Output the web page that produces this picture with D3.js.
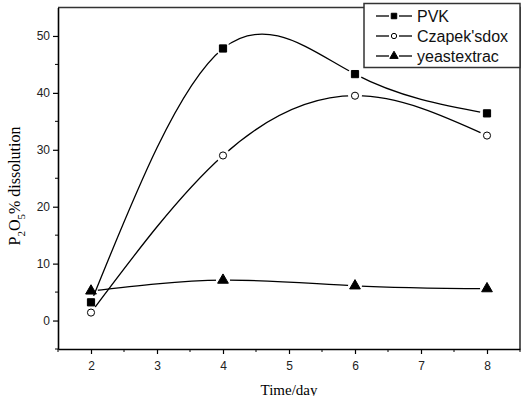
<!DOCTYPE html>
<html>
<head>
<meta charset="utf-8">
<script src="https://cdn.jsdelivr.net/npm/d3@7"></script>
<style>
  body { margin: 0; background: #fff; }
  svg { display: block; }
</style>
</head>
<body>
<svg id="chart" width="528" height="396"></svg>
<script>
var width = 528;
var height = 396;

var days = [2, 4, 6, 8];
var pvk = [3.2, 47.8, 43.3, 36.4];
var czapek = [1.4, 29.0, 39.5, 32.5];
var yeast = [5.2, 7.1, 6.1, 5.6];

var seriesNames = ["PVK", "Czapek'sdox", "yeastextrac"];
var seriesValues = [pvk, czapek, yeast];
var seriesSymbols = ["square", "circle", "triangle"];

var xTicks = [2, 3, 4, 5, 6, 7, 8];
var yTicks = [0, 10, 20, 30, 40, 50];

// plot area edges (note: "top" is taken by window.top)
var plotLeft = 58, plotRight = 520, plotTop = 7.5, plotBottom = 349;

var svg = d3.select("#chart");

var x = d3.scaleLinear().domain([1.5, 8.5]).range([plotLeft, plotRight]);
var y = d3.scaleLinear().domain([-5, 55]).range([plotBottom, plotTop]);

// frame (top + right)
svg.append("path")
    .attr("d", "M" + plotLeft + "," + plotTop + "H" + plotRight + "V" + plotBottom)
    .attr("fill", "none")
    .attr("stroke", "#333")
    .attr("stroke-width", 1.6);

// x axis
var xAxis = svg.append("g").attr("transform", "translate(0," + plotBottom + ")");
xAxis.call(d3.axisBottom(x).tickValues(xTicks).tickSize(5).tickSizeOuter(0).tickFormat(d3.format("d")));
xAxis.append("g").selectAll("line")
    .data(d3.range(1.5, 8.6, 0.5).filter(d => d % 1 !== 0))
    .join("line")
    .attr("x1", d => x(d)).attr("x2", d => x(d))
    .attr("y1", 0).attr("y2", 3)
    .attr("stroke", "#000");

// y axis
var yAxis = svg.append("g").attr("transform", "translate(" + plotLeft + ",0)");
yAxis.call(d3.axisLeft(y).tickValues(yTicks).tickSize(5).tickSizeOuter(0).tickFormat(d3.format("d")));
yAxis.append("g").selectAll("line")
    .data([-5, 5, 15, 25, 35, 45])
    .join("line")
    .attr("x1", 0).attr("x2", -3)
    .attr("y1", d => y(d)).attr("y2", d => y(d))
    .attr("stroke", "#000");

svg.selectAll(".domain").attr("stroke", "#000").attr("stroke-width", 1.6);
svg.selectAll(".tick line").attr("stroke", "#000").attr("stroke-width", 1.2);
svg.selectAll(".tick text")
    .attr("font-family", "Liberation Sans, Arial, sans-serif")
    .attr("font-size", 12)
    .attr("fill", "#222");
xAxis.selectAll(".tick text").attr("dy", "1.05em");

// axis titles
svg.append("text")
    .attr("x", (plotLeft + plotRight) / 2)
    .attr("y", 395)
    .attr("text-anchor", "middle")
    .attr("font-family", "Liberation Serif, Times New Roman, serif")
    .attr("font-size", 15)
    .text("Time/day");

var yTitle = svg.append("text")
    .attr("transform", "translate(20,186) rotate(-90)")
    .attr("text-anchor", "middle")
    .attr("font-family", "Liberation Serif, Times New Roman, serif")
    .attr("font-size", 16);
yTitle.append("tspan").text("P");
yTitle.append("tspan").attr("font-size", 11).attr("dy", 5).text("2");
yTitle.append("tspan").attr("dy", -5).text("O");
yTitle.append("tspan").attr("font-size", 11).attr("dy", 5).text("5");
yTitle.append("tspan").attr("dy", -5).text("% dissolution");

function symbolPath(type) {
    if (type === "square") return d3.symbol(d3.symbolSquare, 52)();
    if (type === "circle") return d3.symbol(d3.symbolCircle, 40)();
    return d3.symbol(d3.symbolTriangle, 50)();
}

function symbolFill(type) {
    return type === "circle" ? "#fff" : "#000";
}

var line = d3.line()
    .x(d => x(d[0]))
    .y(d => y(d[1]))
    .curve(d3.curveNatural);

var defs = svg.append("defs");

seriesValues.forEach(function(values, i) {
    var pts = days.map((d, j) => [d, values[j]]);

    // per-series gap around markers
    var mask = defs.append("mask").attr("id", "gap" + i)
        .attr("maskUnits", "userSpaceOnUse")
        .attr("x", 0).attr("y", 0).attr("width", width).attr("height", height);
    mask.append("rect").attr("width", width).attr("height", height).attr("fill", "#fff");
    mask.selectAll("circle").data(pts).join("circle")
        .attr("cx", d => x(d[0])).attr("cy", d => y(d[1]))
        .attr("r", 7).attr("fill", "#000");

    svg.append("path")
        .datum(pts)
        .attr("d", line)
        .attr("fill", "none")
        .attr("stroke", "#000")
        .attr("stroke-width", 1.3)
        .attr("mask", "url(#gap" + i + ")");

    svg.append("g").selectAll("path")
        .data(pts)
        .join("path")
        .attr("transform", d => "translate(" + x(d[0]) + "," + y(d[1]) + ")")
        .attr("d", symbolPath(seriesSymbols[i]))
        .attr("fill", symbolFill(seriesSymbols[i]))
        .attr("stroke", "#000")
        .attr("stroke-width", 1);
});

// legend
var legend = svg.append("g");
legend.append("rect")
    .attr("x", 364).attr("y", 3.5)
    .attr("width", 156).attr("height", 64)
    .attr("fill", "#fff")
    .attr("stroke", "#333")
    .attr("stroke-width", 1.5);

seriesNames.forEach(function(name, i) {
    var ly = 16 + i * 20;
    legend.append("line")
        .attr("x1", 376).attr("x2", 389).attr("y1", ly).attr("y2", ly)
        .attr("stroke", "#000").attr("stroke-width", 1.3);
    legend.append("line")
        .attr("x1", 399).attr("x2", 412).attr("y1", ly).attr("y2", ly)
        .attr("stroke", "#000").attr("stroke-width", 1.3);
    var t = seriesSymbols[i];
    legend.append("path")
        .attr("transform", "translate(394," + ly + ")")
        .attr("d", t === "square" ? d3.symbol(d3.symbolSquare, 30)() :
                   t === "circle" ? d3.symbol(d3.symbolCircle, 22)() :
                   d3.symbol(d3.symbolTriangle, 30)())
        .attr("fill", symbolFill(t))
        .attr("stroke", "#000")
        .attr("stroke-width", 1);
    legend.append("text")
        .attr("x", 417).attr("y", ly)
        .attr("dy", "0.36em")
        .attr("font-family", "Liberation Sans, Arial, sans-serif")
        .attr("font-size", 16)
        .attr("fill", "#111")
        .text(name);
});
</script>
</body>
</html>
